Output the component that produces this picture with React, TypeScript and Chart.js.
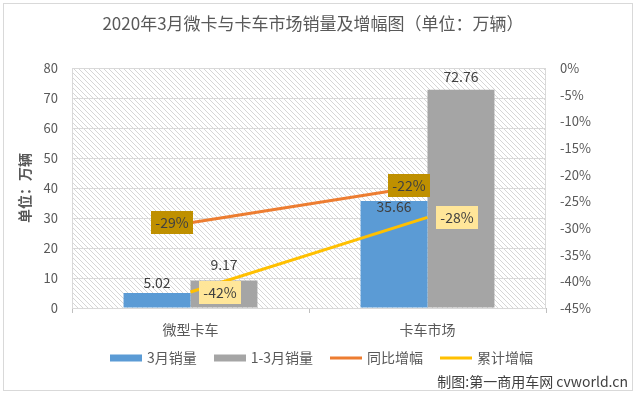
import React, { useEffect, useRef } from 'react';
import { Chart, registerables } from 'chart.js';

Chart.register(...registerables);

// ---- data ----
const categories = ['微型卡车', '卡车市场'];
const seriesNames = ['3月销量', '1-3月销量', '同比增幅', '累计增幅'];
const marchSales = [5.02, 35.66];
const ytdSales = [9.17, 72.76];
const yoyGrowth = [-29, -22];
const cumGrowth = [-42, -28];
const leftAxisRange = [0, 80, 10];
const rightAxisRange = [-45, 0, 5];
const titleText = '2020年3月微卡与卡车市场销量及增幅图（单位：万辆）';
const yAxisTitle = '单位：万辆';
const footerText = '制图:第一商用车网 cvworld.cn';

// ---- style ----
const FONT = '"Noto Sans CJK SC", "Noto Sans", sans-serif';
const W = 636;
const H = 393;
const COLORS = ['#5B9BD5', '#A5A5A5', '#ED7D31', '#FFC000'];
const LINE_LABEL_FILL = ['#BF9000', '#FFE699'];
const LINE_LABEL_DX = [-19, 29];
const BAR_LABEL_LIFT = [
  [10, 16],
  [-6, 13],
];

const decorPlugin = {
  id: 'decor',
  beforeDraw(chart: any) {
    const { ctx, chartArea: a } = chart;
    ctx.save();
    ctx.fillStyle = '#ffffff';
    ctx.fillRect(0, 0, chart.width, chart.height);
    ctx.strokeStyle = '#d9d9d9';
    ctx.lineWidth = 1;
    ctx.strokeRect(3.5, 3.5, chart.width - 7, chart.height - 6);
    const tile = document.createElement('canvas');
    const s = 5;
    tile.width = s;
    tile.height = s;
    const t = tile.getContext('2d')!;
    t.fillStyle = '#d6d6d6';
    for (let i = 0; i < s; i++) t.fillRect(i, i, 1, 1);
    const pat = ctx.createPattern(tile, 'repeat');
    ctx.fillStyle = pat;
    ctx.fillRect(a.left, a.top, a.right - a.left, a.bottom - a.top);
    ctx.restore();
  },
  beforeDatasetsDraw(chart: any) {
    const { ctx, chartArea: a } = chart;
    ctx.save();
    ctx.strokeStyle = '#d9d9d9';
    ctx.lineWidth = 1;
    ctx.strokeRect(Math.round(a.left) + 0.5, Math.round(a.top) + 0.5, Math.round(a.right - a.left) - 1, Math.round(a.bottom - a.top));
    ctx.restore();
  },
  afterDraw(chart: any) {
    const { ctx, chartArea: a } = chart;
    ctx.save();
    // title
    ctx.fillStyle = '#595959';
    ctx.font = `17px ${FONT}`;
    ctx.textAlign = 'center';
    ctx.textBaseline = 'middle';
    ctx.fillText(titleText, 313, 24);

    // y axis title
    ctx.save();
    ctx.translate(25, (a.top + a.bottom) / 2);
    ctx.rotate(-Math.PI / 2);
    ctx.font = `bold 14px ${FONT}`;
    ctx.fillStyle = '#595959';
    ctx.fillText(yAxisTitle, 0, 0);
    ctx.restore();

    // bar labels
    ctx.font = `14px ${FONT}`;
    ctx.fillStyle = '#404040';
    ctx.textAlign = 'center';
    ctx.textBaseline = 'middle';
    [0, 1].forEach((di) => {
      const meta = chart.getDatasetMeta(di);
      const vals = chart.data.datasets[di].data;
      meta.data.forEach((el: any, j: number) => {
        ctx.fillText(Number(vals[j]).toFixed(2), el.x, el.y - BAR_LABEL_LIFT[j][di]);
      });
    });

    // line labels
    [2, 3].forEach((di, k) => {
      const meta = chart.getDatasetMeta(di);
      const vals = chart.data.datasets[di].data;
      meta.data.forEach((el: any, j: number) => {
        const txt = `${vals[j]}%`;
        ctx.font = `14px ${FONT}`;
        const tw = ctx.measureText(txt).width;
        const bw = Math.round(tw + 9);
        const bh = 23;
        const cx = el.x + LINE_LABEL_DX[k];
        const x0 = Math.round(cx - bw / 2);
        const y0 = Math.round(el.y - bh / 2);
        ctx.fillStyle = LINE_LABEL_FILL[k];
        ctx.fillRect(x0, y0, bw, bh);
        ctx.fillStyle = '#404040';
        ctx.fillText(txt, x0 + bw / 2, y0 + bh / 2 + 0.5);
      });
    });

    // legend
    ctx.font = `14px ${FONT}`;
    const symW = 32;
    const gapSym = 5;
    const gapItem = 17;
    const widths = seriesNames.map((n) => symW + gapSym + ctx.measureText(n).width);
    const total = widths.reduce((p, c) => p + c, 0) + gapItem * (widths.length - 1);
    let x = 321.5 - total / 2;
    const ly = 358;
    seriesNames.forEach((n, i) => {
      ctx.fillStyle = COLORS[i];
      if (i < 2) ctx.fillRect(Math.round(x), ly - 3.5, symW, 7);
      else ctx.fillRect(Math.round(x), ly - 1.5, symW, 3);
      ctx.fillStyle = '#595959';
      ctx.textAlign = 'left';
      ctx.fillText(n, x + symW + gapSym, ly);
      x += widths[i] + gapItem;
    });

    // footer
    ctx.fillStyle = '#404040';
    ctx.textAlign = 'right';
    ctx.font = `14px ${FONT}`;
    ctx.fillText(footerText, 628, 382);
    ctx.restore();
  },
};

export default function App() {
  const ref = useRef<HTMLCanvasElement>(null);
  useEffect(() => {
    document.body.style.margin = '0';
    const chart = new Chart(ref.current!, {
      type: 'bar',
      data: {
        labels: categories,
        datasets: [
          { type: 'bar', label: seriesNames[0], data: marchSales, backgroundColor: COLORS[0], yAxisID: 'y', order: 2, barPercentage: 1, categoryPercentage: 0.565 },
          { type: 'bar', label: seriesNames[1], data: ytdSales, backgroundColor: COLORS[1], yAxisID: 'y', order: 2, barPercentage: 1, categoryPercentage: 0.565 },
          { type: 'line', label: seriesNames[2], data: yoyGrowth, borderColor: COLORS[2], backgroundColor: COLORS[2], borderWidth: 3, pointRadius: 0, yAxisID: 'y1', order: 1 },
          { type: 'line', label: seriesNames[3], data: cumGrowth, borderColor: COLORS[3], backgroundColor: COLORS[3], borderWidth: 3, pointRadius: 0, yAxisID: 'y1', order: 1 },
        ] as any,
      },
      plugins: [decorPlugin],
      options: {
        responsive: false,
        animation: false,
        devicePixelRatio: 1,
        layout: { padding: { top: 68, left: 0, right: 0, bottom: 0 } },
        plugins: { legend: { display: false }, title: { display: false }, tooltip: { enabled: false } },
        scales: {
          x: {
            offset: true,
            ticks: { color: '#595959', font: { size: 14, family: FONT }, padding: 8 },
            grid: { drawOnChartArea: false, drawTicks: true, tickLength: 5, color: '#bfbfbf', offset: true },
            border: { display: true, color: '#bfbfbf' },
            afterFit(s: any) { s.height = 85; },
          },
          y: {
            position: 'left',
            min: leftAxisRange[0],
            max: leftAxisRange[1],
            ticks: { stepSize: leftAxisRange[2], color: '#595959', font: { size: 13, family: FONT }, padding: 14 },
            grid: { color: '#d9d9d9', drawTicks: false },
            border: { display: false },
            afterFit(s: any) { s.width = 72; },
          },
          y1: {
            position: 'right',
            min: rightAxisRange[0],
            max: rightAxisRange[1],
            ticks: { stepSize: rightAxisRange[2], color: '#595959', font: { size: 13, family: FONT }, padding: 14, callback: (v: any) => `${v}%` },
            grid: { display: false, drawTicks: false },
            border: { display: false },
            afterFit(s: any) { s.width = 90; },
          },
        } as any,
      },
    });
    return () => chart.destroy();
  }, []);
  return (
    <div style={{ width: W, height: H, position: 'relative', background: '#fff' }}>
      <canvas ref={ref} width={W} height={H} style={{ display: 'block', width: W, height: H }} />
    </div>
  );
}
